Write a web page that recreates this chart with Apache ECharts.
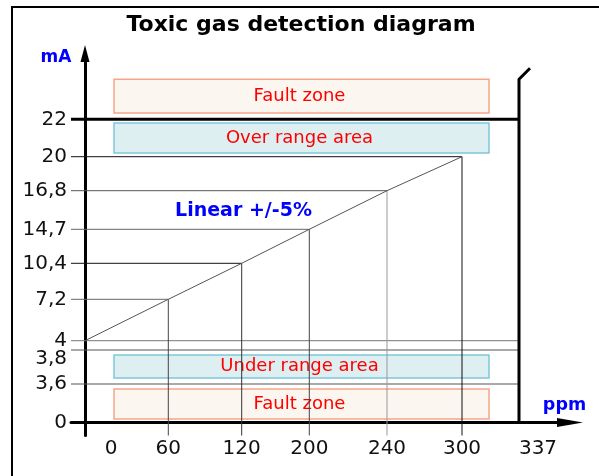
<!DOCTYPE html>
<html><head><meta charset="utf-8">
<script src="https://cdn.jsdelivr.net/npm/echarts@6/dist/echarts.min.js"></script>
<style>html,body{margin:0;padding:0;background:#fff}#c{width:599px;height:476px}</style>
</head><body><div id="c"></div>
<script>
// ---------------- data ----------------
const ppmValues = [0, 60, 120, 200, 240, 300];
const mAValues = [4, 7.2, 10.4, 14.7, 16.8, 20];
const xTickValues = [0, 60, 120, 200, 240, 300, 337];
const xTickLabels = ['0', '60', '120', '200', '240', '300', '337'];
const yTickValues = [0, 3.6, 3.8, 4, 7.2, 10.4, 14.7, 16.8, 20, 22];
const yTickLabels = ['0', '3,6', '3,8', '4', '7,2', '10,4', '14,7', '16,8', '20', '22'];
const refLevels = [4, 3.8, 3.6];
const limitLevel = 22;
const rangeEnd = 337;
const zoneNames = ['Fault zone', 'Over range area', 'Under range area', 'Fault zone'];
const zoneLow = [22, 20, 3.6, 0];
const zoneHigh = [null, 22, 3.8, 3.6];
const zoneKind = ['fault', 'range', 'range', 'fault'];
const titleText = 'Toxic gas detection diagram';
const noteText = 'Linear +/-5%';

// ---------------- layout (schematic, non-uniform scale) ----------------
const xTickPos = [0, 83.3, 156.7, 224.3, 302, 377, 434];
const yTickPos = [0, 38.5, 72.5, 81.8, 123.2, 159.2, 193.2, 231.8, 265.8, 303.2];
const X_MIN = -14, X_MAX = 485, Y_MIN = -13, Y_MAX = 369;
const BREAK_H = 40;
const BOX_X = [29, 404];
const zoneInset = [[0, 6.3], [3.7, 3.7], [5, 6], [5, 3.5]];
const hColors = ['#666', '#111', '#666', '#555', '#111'];
const vColors = ['#444', '#333', '#444', '#999', '#111'];
const FONT = '"DejaVu Sans", Verdana, sans-serif';

function interp(v, vals, pos) {
  for (let i = 0; i < vals.length - 1; i++) {
    if (v <= vals[i + 1] || i === vals.length - 2) {
      const t = (v - vals[i]) / (vals[i + 1] - vals[i]);
      return pos[i] + t * (pos[i + 1] - pos[i]);
    }
  }
  return pos[0];
}
const xs = v => interp(v, xTickValues, xTickPos);
const ys = v => interp(v, yTickValues, yTickPos);

const series = [];
function seg(data, color, width, z) {
  series.push({ type: 'line', data: data, symbol: 'none', silent: true, animation: false,
    lineStyle: { color: color, width: width }, z: z || 2 });
}

// zones
series.push({
  type: 'custom', silent: true, animation: false, z: 1,
  data: zoneNames.map((n, i) => [i]),
  renderItem: function (params, api) {
    const i = api.value(0);
    const topD = zoneHigh[i] == null ? ys(limitLevel) + BREAK_H : ys(zoneHigh[i]);
    const botD = ys(zoneLow[i]);
    const p0 = api.coord([BOX_X[0], topD]);
    const p1 = api.coord([BOX_X[1], botD]);
    const y0 = p0[1] + zoneInset[i][0], y1 = p1[1] - zoneInset[i][1];
    const fault = zoneKind[i] === 'fault';
    return { type: 'group', children: [
      { type: 'rect', shape: { x: p0[0], y: y0, width: p1[0] - p0[0], height: y1 - y0 },
        style: { fill: fault ? '#fbf6ef' : '#ddeff1', stroke: fault ? '#f6a58a' : '#7ec8dc', lineWidth: 1.5 } },
      { type: 'text', style: { text: zoneNames[i], x: (p0[0] + p1[0]) / 2 - 2, y: (y0 + y1) / 2,
        align: 'center', verticalAlign: 'middle', fill: '#ff0000', font: '18px ' + FONT } }
    ] };
  }
});

// full-width reference lines
refLevels.forEach((lv, i) => seg([[X_MIN, ys(lv)], [xs(rangeEnd), ys(lv)]], i === 0 ? '#777' : '#555', 1));
// upper limit line
seg([[X_MIN, ys(limitLevel)], [xs(rangeEnd), ys(limitLevel)]], '#000', 3, 3);
// range end with break
seg([[xs(rangeEnd), 0], [xs(rangeEnd), ys(limitLevel) + BREAK_H], [xs(rangeEnd) + 11, ys(limitLevel) + BREAK_H + 11]], '#000', 3, 3);
// drop lines
for (let i = 1; i < ppmValues.length; i++) {
  seg([[X_MIN, ys(mAValues[i])], [xs(ppmValues[i]), ys(mAValues[i])]], hColors[i - 1], 1);
  seg([[xs(ppmValues[i]), ys(mAValues[i])], [xs(ppmValues[i]), Y_MIN]], vColors[i - 1], 1);
}
// main linear curve
seg(ppmValues.map((p, i) => [xs(p), ys(mAValues[i])]), '#555', 1, 4);

const option = {
  backgroundColor: '#fff',
  animation: false,
  grid: { left: 85 + X_MIN, right: 599 - (85 + X_MAX), top: 422.5 - Y_MAX, bottom: 476 - (422.5 - Y_MIN) },
  xAxis: {
    type: 'value', min: X_MIN, max: X_MAX,
    axisLine: { onZero: true, symbol: ['none', 'triangle'], symbolSize: [9, 26], lineStyle: { color: '#000', width: 3 } },
    axisTick: { show: false }, splitLine: { show: false },
    axisLabel: {
      customValues: xTickValues.map(xs), margin: 3, color: '#111', fontSize: 20, fontFamily: FONT,
      formatter: function (v, i) {
        const k = xTickPos.findIndex(p => Math.abs(p - v) < 0.01);
        const lab = xTickLabels[k];
        if (k === 0) return '{l|' + lab + '}';
        if (k === xTickLabels.length - 1) return '{r|' + lab + '}';
        return lab;
      },
      rich: { l: { padding: [0, 0, 0, 52], fontSize: 20, fontFamily: FONT, color: '#111' },
              r: { padding: [0, 0, 0, 38], fontSize: 20, fontFamily: FONT, color: '#111' } }
    }
  },
  yAxis: {
    type: 'value', min: Y_MIN, max: Y_MAX,
    axisLine: { onZero: true, symbol: ['none', 'triangle'], symbolSize: [9, 17], lineStyle: { color: '#000', width: 3 } },
    axisTick: { show: false }, splitLine: { show: false },
    axisLabel: {
      customValues: yTickValues.map(ys), margin: 4, color: '#111', fontSize: 20, fontFamily: FONT,
      formatter: function (v, i) {
        const k = yTickPos.findIndex(p => Math.abs(p - v) < 0.01);
        const lab = yTickLabels[k];
        if (lab === '3,8') return '{d|' + lab + '}';
        return lab;
      },
      rich: { d: { padding: [18, 0, 0, 0], fontSize: 20, fontFamily: FONT, color: '#111' } }
    }
  },
  graphic: [
    { type: 'rect', shape: { x: 12, y: 7, width: 700, height: 600 }, style: { fill: 'none', stroke: '#000', lineWidth: 2 }, z: 0, silent: true },
    { type: 'text', x: 301, y: 25.5, style: { text: titleText, align: 'center', verticalAlign: 'middle', font: 'bold 22px ' + FONT, fill: '#000' } },
    { type: 'text', x: 56, y: 58, style: { text: 'mA', align: 'center', verticalAlign: 'middle', font: 'bold 17px ' + FONT, fill: '#0000ff' } },
    { type: 'text', x: 564.5, y: 405, style: { text: 'ppm', align: 'center', verticalAlign: 'middle', font: 'bold 17.5px ' + FONT, fill: '#0000ff' } },
    { type: 'text', x: 243.5, y: 211, style: { text: noteText, align: 'center', verticalAlign: 'middle', font: 'bold 19px ' + FONT, fill: '#0000ff' } }
  ],
  series: series
};
const chart = echarts.init(document.getElementById('c'), null, { renderer: 'canvas' });
chart.setOption(option);
</script></body></html>
